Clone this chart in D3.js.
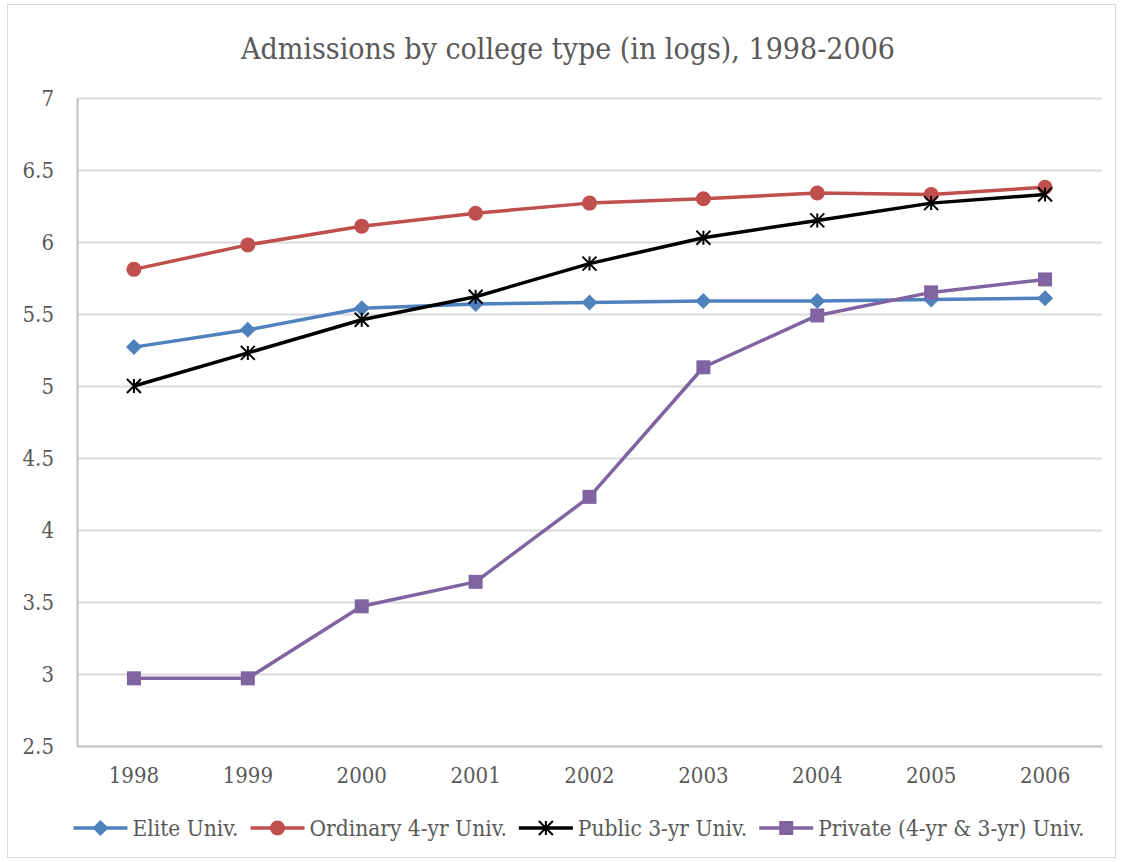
<!DOCTYPE html>
<html><head><meta charset="utf-8">
<script src="https://cdn.jsdelivr.net/npm/d3@7"></script>
<style>
html,body{margin:0;padding:0;background:#fff;}
text{font-family:"DejaVu Serif Condensed","DejaVu Serif","Liberation Serif",serif;fill:#595959;}
</style></head><body>
<svg id="chart" width="1122" height="862"></svg>
<script>
const years = ["1998","1999","2000","2001","2002","2003","2004","2005","2006"];
const eliteValues = [5.27, 5.39, 5.54, 5.57, 5.58, 5.59, 5.59, 5.60, 5.61];
const ordinaryValues = [5.81, 5.98, 6.11, 6.20, 6.27, 6.30, 6.34, 6.33, 6.38];
const publicValues = [5.00, 5.23, 5.46, 5.62, 5.85, 6.03, 6.15, 6.27, 6.33];
const privateValues = [2.97, 2.97, 3.47, 3.64, 4.23, 5.13, 5.49, 5.65, 5.74];
const seriesNames = ["Elite Univ.", "Ordinary 4-yr Univ.", "Public 3-yr Univ.", "Private (4-yr & 3-yr) Univ."];
const yTicks = [2.5, 3, 3.5, 4, 4.5, 5, 5.5, 6, 6.5, 7];
const titleText = "Admissions by college type (in logs), 1998-2006";

const series = [
  {name: seriesNames[0], values: eliteValues, color: "#4f81bd", marker: "diamond"},
  {name: seriesNames[1], values: ordinaryValues, color: "#c0504d", marker: "circle"},
  {name: seriesNames[2], values: publicValues, color: "#000000", marker: "asterisk"},
  {name: seriesNames[3], values: privateValues, color: "#8064a2", marker: "square"}
];

const svg = d3.select("#chart");
const W = 1122, H = 862;
const plot = {left: 77, right: 1102, top: 98, bottom: 746};

// outer border
svg.append("rect").attr("x", 7.5).attr("y", 4.5).attr("width", 1108).attr("height", 853)
  .attr("fill", "#fff").attr("stroke", "#d9d9d9").attr("stroke-width", 1);

const x = d3.scaleBand().domain(years).range([plot.left, plot.right]);
const y = d3.scaleLinear().domain([2.5, 7]).range([plot.bottom, plot.top]);

// gridlines
svg.append("g").selectAll("line").data(yTicks.slice(1)).join("line")
  .attr("x1", plot.left).attr("x2", plot.right)
  .attr("y1", d => Math.round(y(d)) + 0.5).attr("y2", d => Math.round(y(d)) + 0.5)
  .attr("stroke", "#d9d9d9").attr("stroke-width", 2);

// axes
const yAxis = d3.axisLeft(y).tickValues(yTicks).tickSize(0).tickPadding(23).tickFormat(d => String(d));
const gy = svg.append("g").attr("transform", `translate(${plot.left},0)`).call(yAxis);
gy.select(".domain").attr("stroke", "#bfbfbf").attr("stroke-width", 2);
gy.selectAll("text").attr("font-size", 22).attr("fill", "#595959");

const xAxis = d3.axisBottom(x).tickSize(0).tickPadding(21);
const gx = svg.append("g").attr("transform", `translate(0,${plot.bottom})`).call(xAxis);
gx.select(".domain").attr("stroke", "#bfbfbf").attr("stroke-width", 2);
gx.selectAll("text").attr("font-size", 22).attr("fill", "#595959");

// title
svg.append("text").attr("x", 568).attr("y", 59)
  .attr("text-anchor", "middle").attr("font-size", 30).attr("fill", "#595959").text(titleText);

function drawMarker(g, type, cx, cy, color) {
  if (type === "diamond") {
    g.append("path").attr("d", `M${cx},${cy-8}L${cx+8},${cy}L${cx},${cy+8}L${cx-8},${cy}Z`).attr("fill", color);
  } else if (type === "circle") {
    g.append("circle").attr("cx", cx).attr("cy", cy).attr("r", 7.5).attr("fill", color);
  } else if (type === "square") {
    g.append("rect").attr("x", cx-7).attr("y", cy-7).attr("width", 14).attr("height", 14).attr("fill", color);
  } else if (type === "asterisk") {
    const r = 7;
    const p = `M${cx-r},${cy-r}L${cx+r},${cy+r}M${cx-r},${cy+r}L${cx+r},${cy-r}M${cx},${cy-r}L${cx},${cy+r}`;
    g.append("path").attr("d", p).attr("stroke", color).attr("stroke-width", 2).attr("fill", "none");
  }
}

const line = d3.line().x((d, i) => x(years[i]) + x.bandwidth() / 2).y(d => y(d));
series.forEach(s => {
  const g = svg.append("g");
  g.append("path").datum(s.values).attr("d", line).attr("fill", "none")
    .attr("stroke", s.color).attr("stroke-width", 3.5).attr("stroke-linejoin", "round");
  s.values.forEach((v, i) => drawMarker(g, s.marker, x(years[i]) + x.bandwidth() / 2, y(v), s.color));
});

// legend
const legY = 828;
const legend = svg.append("g");
const items = [];
let totalW = 0;
series.forEach((s, i) => {
  const t = legend.append("text").attr("font-size", 22.5).attr("fill", "#595959").attr("y", legY + 8).text(s.name);
  const tw = t.node().getComputedTextLength();
  items.push({s, t, tw});
  totalW += 54 + 5 + tw + (i < series.length - 1 ? 12 : 0);
});
let lx = 579 - totalW / 2;
items.forEach((it, i) => {
  legend.append("line").attr("x1", lx).attr("x2", lx + 54).attr("y1", legY).attr("y2", legY)
    .attr("stroke", it.s.color).attr("stroke-width", 3.5);
  drawMarker(legend, it.s.marker, lx + 27, legY, it.s.color);
  it.t.attr("x", lx + 59);
  lx += 59 + it.tw + 12;
});
</script>
</body></html>
